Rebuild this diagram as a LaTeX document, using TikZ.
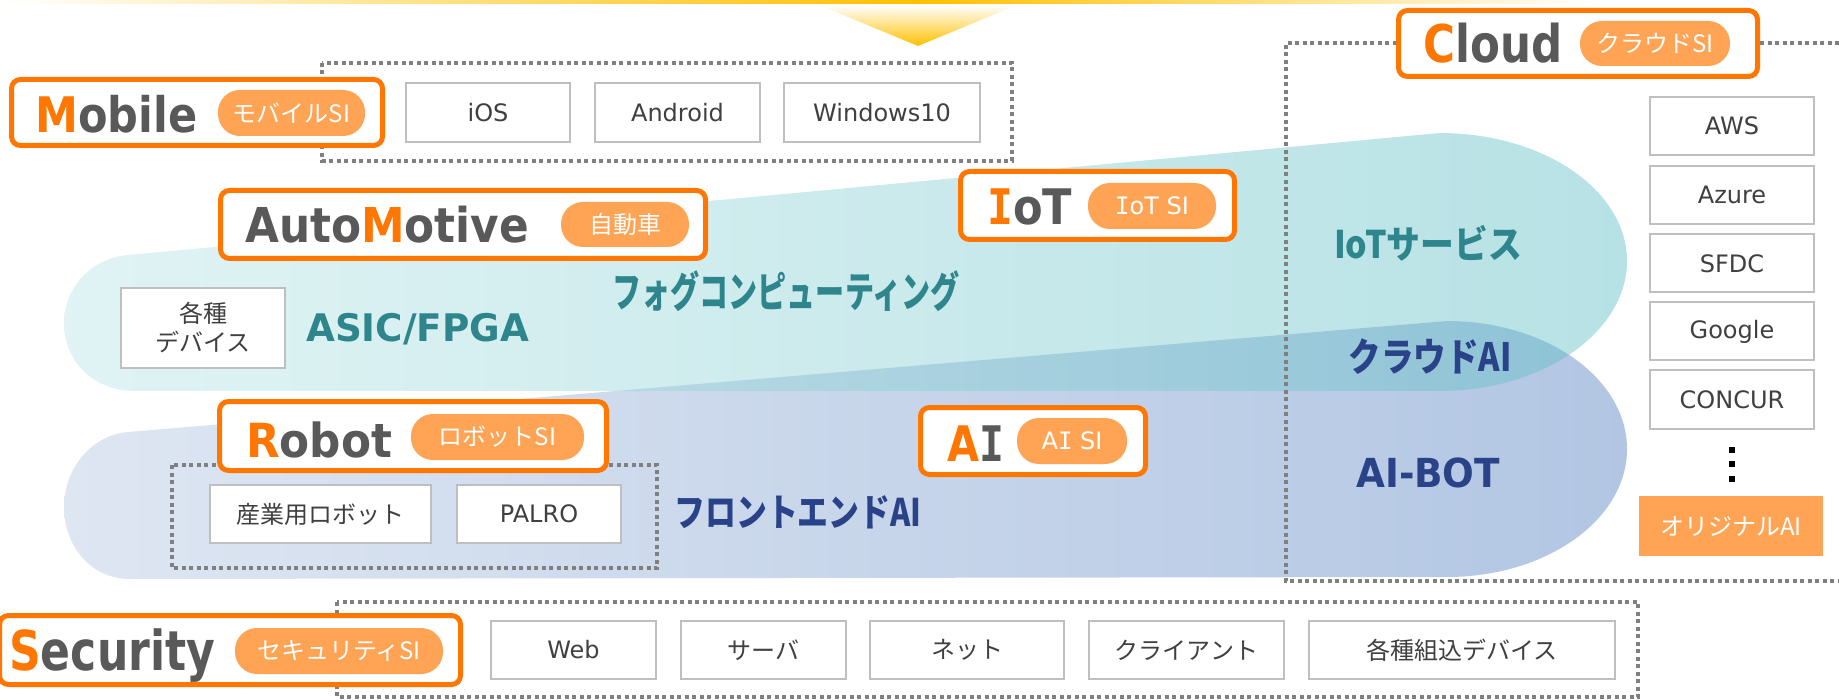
\documentclass[tikz,border=0pt]{standalone}
\usepackage{fontspec}
\usepackage{graphicx}
\setmainfont{DejaVu Sans}
\newfontfamily\jp{Noto Sans CJK JP}
\newfontfamily\monoI{DejaVu Sans Mono}
\newcommand\fitw[2]{\resizebox{#1}{\height}{#2}}
\definecolor{tor}{RGB}{255,118,0}
\definecolor{pillc}{RGB}{255,163,84}
\definecolor{tgray}{RGB}{89,89,89}
\definecolor{txtg}{RGB}{64,64,64}
\definecolor{boxg}{RGB}{191,191,191}
\definecolor{dotg}{RGB}{128,128,128}
\definecolor{tealtx}{RGB}{46,134,140}
\definecolor{bluetx}{RGB}{42,67,136}
\definecolor{barY}{RGB}{255,192,0}
\definecolor{tealL}{RGB}{188,229,231}
\definecolor{tealR}{RGB}{95,190,197}
\definecolor{blueL}{RGB}{222,230,242}
\definecolor{blueR}{RGB}{178,198,227}
\begin{document}
\begin{tikzpicture}[x=1pt,y=-1pt,
  tbox/.style={draw=tor,line width=5pt,rounded corners=9pt,fill=white,inner sep=0pt},
  pill/.style={fill=pillc,rounded corners=22pt,inner sep=0pt,text=white,font=\jp\fontsize{24}{24}\selectfont},
  gbox/.style={draw=boxg,line width=2pt,fill=white,inner sep=0pt,text=txtg,font=\fontsize{24}{28}\selectfont},
  jbox/.style={gbox,font=\jp\fontsize{24}{28}\selectfont},
  dotbox/.style={draw=dotg,line width=4pt,dash pattern=on 4pt off 3.5pt},
  ttl/.style={anchor=base west,inner sep=0pt,text=tgray},
  lbl/.style={inner sep=0pt}]
\useasboundingbox (0,0) rectangle (1839,700);
% top bar and triangle
\shade[left color=white,right color=barY] (0,0) rectangle (920,4);
\shade[left color=barY,right color=white] (920,0) rectangle (1600,4);
\shade[top color=white,bottom color=barY] (819,5) -- (1017,5) -- (918,46) -- cycle;
% blobs
\shade[left color=blueL,right color=blueR] (128,432) -- (1447,321) .. controls (1546,321) and (1627,378) .. (1627,449) .. controls (1627,520) and (1546,577) .. (1447,577) -- (130,579) .. controls (90,579) and (64,545) .. (64,507) .. controls (64,468) and (92,435) .. (128,432) -- cycle;
\shade[left color=tealL,right color=tealR,fill opacity=0.45] (128,255) -- (1440,133) .. controls (1543,133) and (1627,190) .. (1627,261) .. controls (1627,332) and (1543,391) .. (1440,391) -- (135,391) .. controls (92,391) and (64,360) .. (64,323) .. controls (64,287) and (92,258) .. (128,255) -- cycle;
% dotted groups
\draw[dotbox] (322,63) rectangle (1012,161);
\draw[dotbox] (1839,43) -- (1286,43) -- (1286,581) -- (1839,581);
\draw[dotbox] (172,465) rectangle (657,568);
\draw[dotbox] (337,602) rectangle (1638,697);
% Mobile
\node[tbox,minimum width=371pt,minimum height=66pt] (mobileBox) at (197,112.5) {};
\node[ttl] (mobileT) at (35,133) {\fontsize{49}{49}\selectfont\bfseries\fitw{162pt}{\textcolor{tor}{M}obile}};
\node[pill,minimum width=147pt,minimum height=46pt] (mobileSI) at (291.5,113) {モバイルSI};
\node[gbox,minimum width=164pt,minimum height=59pt] (ios) at (488,112.5) {iOS};
\node[gbox,minimum width=165pt,minimum height=59pt] (android) at (677.5,112.5) {Android};
\node[gbox,minimum width=196pt,minimum height=59pt] (win) at (882,112.5) {Windows10};
% Cloud
\node[tbox,minimum width=359pt,minimum height=66pt] (cloudBox) at (1578,43.5) {};
\node[ttl] (cloudT) at (1423,63) {\fontsize{52}{52}\selectfont\bfseries\fitw{139pt}{\textcolor{tor}{C}loud}};
\node[pill,minimum width=150pt,minimum height=45pt] (cloudSI) at (1655,43.5) {クラウドSI};
\node[gbox,minimum width=164pt,minimum height=58pt] (aws) at (1732,126) {AWS};
\node[gbox,minimum width=164pt,minimum height=58pt] (azure) at (1732,195) {Azure};
\node[gbox,minimum width=164pt,minimum height=58pt] (sfdc) at (1732,263.5) {SFDC};
\node[gbox,minimum width=164pt,minimum height=58pt] (google) at (1732,331.5) {Google};
\node[gbox,minimum width=164pt,minimum height=58pt] (concur) at (1732,399.5) {CONCUR};
\fill[black] (1729,447) rectangle (1735,453);
\fill[black] (1729,461) rectangle (1735,467);
\fill[black] (1729,476) rectangle (1735,482);
\node[fill=pillc,inner sep=0pt,minimum width=184pt,minimum height=60pt,text=white,font=\jp\fontsize{24}{24}\selectfont] (orig) at (1731,526) {オリジナルAI};
% AutoMotive
\node[tbox,minimum width=485pt,minimum height=68pt] (autoBox) at (463,224.5) {};
\node[ttl] (autoT) at (245,243) {\fontsize{48}{48}\selectfont\bfseries\fitw{284pt}{Auto\textcolor{tor}{M}otive}};
\node[pill,minimum width=128pt,minimum height=45pt] (autoSI) at (625,224.5) {自動車};
\node[gbox,minimum width=164pt,minimum height=80pt,align=center,font=\jp\fontsize{24}{29}\selectfont] (dev) at (203,328) {各種\\デバイス};
% IoT
\node[tbox,minimum width=274pt,minimum height=68pt] (iotBox) at (1097.5,205.5) {};
\node[ttl] (iotT) at (987,225) {\fontsize{49}{49}\selectfont\bfseries\fitw{85pt}{\textcolor{tor}{\monoI I}oT}};
\node[pill,minimum width=128pt,minimum height=46pt,font=\fontsize{24}{24}\selectfont] (iotSI) at (1152,206) {{\monoI I}oT SI};
% AI
\node[tbox,minimum width=225pt,minimum height=67pt] (aiBox) at (1033,441) {};
\node[ttl] (aiT) at (947,461) {\fontsize{49}{49}\selectfont\bfseries\fitw{57pt}{\textcolor{tor}{A}{\monoI I}}};
\node[pill,minimum width=110pt,minimum height=46pt,font=\fontsize{24}{24}\selectfont] (aiSI) at (1072,441) {A{\monoI I} SI};
% Robot
\node[tbox,minimum width=387pt,minimum height=69pt] (robotBox) at (413,436) {};
\node[ttl] (robotT) at (246,457) {\fontsize{47}{47}\selectfont\bfseries\fitw{146pt}{\textcolor{tor}{R}obot}};
\node[pill,minimum width=173pt,minimum height=46pt] (robotSI) at (497.5,437) {ロボットSI};
\node[jbox,minimum width=221pt,minimum height=58pt] (indrobot) at (320.5,514) {産業用ロボット};
\node[gbox,minimum width=164pt,minimum height=58pt] (palro) at (539,514) {PALRO};
% Security
\node[tbox,minimum width=461pt,minimum height=69pt] (secBox) at (230,650) {};
\node[ttl] (secT) at (9,670) {\fontsize{55}{55}\selectfont\bfseries\fitw{206pt}{\textcolor{tor}{S}ecurity}};
\node[pill,minimum width=208pt,minimum height=46pt] (secSI) at (339,651) {セキュリティSI};
\node[gbox,minimum width=165pt,minimum height=58pt] (web) at (573.5,650) {Web};
\node[jbox,minimum width=165pt,minimum height=58pt] (server) at (763.5,650) {サーバ};
\node[jbox,minimum width=194pt,minimum height=58pt] (net) at (967,650) {ネット};
\node[jbox,minimum width=195pt,minimum height=58pt] (client) at (1186.5,650) {クライアント};
\node[jbox,minimum width=306pt,minimum height=58pt] (embed) at (1462,650) {各種組込デバイス};
% labels
\node[lbl,anchor=base west,text=tealtx] (asic) at (306,342) {\fontsize{38}{38}\selectfont\bfseries\fitw{223pt}{ASIC/FPGA}};
\node[lbl,text=tealtx] (fog) at (786,291) {\jp\bfseries\fontsize{42}{42}\selectfont\fitw{347pt}{フォグコンピューティング}};
\node[lbl,text=tealtx] (iotsv) at (1428,243) {\jp\bfseries\fontsize{38}{38}\selectfont\fitw{188pt}{IoTサービス}};
\node[lbl,text=bluetx] (cloudai) at (1430,357) {\jp\bfseries\fontsize{39}{39}\selectfont\fitw{163pt}{クラウドAI}};
\node[lbl,anchor=base west,text=bluetx] (aibot) at (1356,487) {\fontsize{40}{40}\selectfont\bfseries\fitw{144pt}{AI-BOT}};
\node[lbl,text=bluetx] (front) at (798,512) {\jp\bfseries\fontsize{38}{38}\selectfont\fitw{247pt}{フロントエンドAI}};
\end{tikzpicture}
\end{document}
